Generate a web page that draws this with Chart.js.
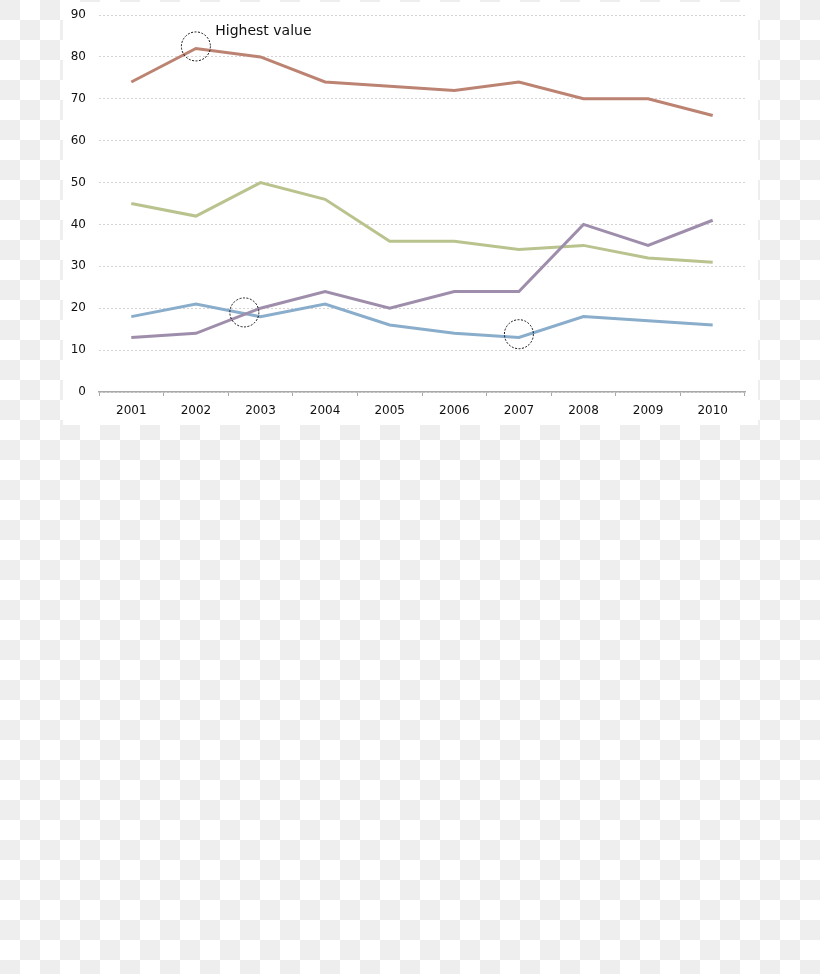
<!DOCTYPE html>
<html>
<head>
<meta charset="utf-8">
<script src="https://cdn.jsdelivr.net/npm/chart.js@4/dist/chart.umd.min.js"></script>
<style>
  html, body { margin: 0; padding: 0; }
  body {
    width: 820px; height: 974px; overflow: hidden;
    background: repeating-conic-gradient(#ffffff 0 25%, #eeeeee 0 50%) 0 0 / 40px 40px;
    position: relative;
  }
  #box {
    position: absolute; left: 63px; top: 2px; width: 695px; height: 423px;
    background: #ffffff;
  }
</style>
</head>
<body>
<div id="box"><canvas id="c" width="695" height="423"></canvas></div>
<script>
const years = ['2001','2002','2003','2004','2005','2006','2007','2008','2009','2010'];
const seriesRed    = [74, 82, 80, 74, 73, 72, 74, 70, 70, 66];
const seriesGreen  = [45, 42, 50, 46, 36, 36, 34, 35, 32, 31];
const seriesPurple = [13, 14, 20, 24, 20, 24, 24, 40, 35, 41];
const seriesBlue   = [18, 21, 18, 21, 16, 14, 13, 18, 17, 16];
const yTicks = [0, 10, 20, 30, 40, 50, 60, 70, 80, 90];
// annotation circles (category index, value) and label
const circleX = [1, 1.75, 6];
const circleY = [82.5, 19, 13.8];
const noteText = 'Highest value';
const noteX = 1.3;
const noteY = 86.2;

const annotations = {
  id: 'annotations',
  afterDatasetsDraw(chart) {
    const ctx = chart.ctx, xs = chart.scales.x, ys = chart.scales.y;
    ctx.save();
    ctx.strokeStyle = '#111111';
    ctx.lineWidth = 1;
    ctx.setLineDash([2, 1.5]);
    for (let i = 0; i < circleX.length; i++) {
      const px = xs.getPixelForValue(circleX[i]);
      const py = ys.getPixelForValue(circleY[i]);
      ctx.beginPath();
      ctx.arc(px, py, 14.5, 0, Math.PI * 2);
      ctx.stroke();
    }
    ctx.setLineDash([]);
    ctx.fillStyle = '#111111';
    ctx.font = '14px "DejaVu Sans"';
    ctx.textAlign = 'left';
    ctx.textBaseline = 'middle';
    ctx.fillText(noteText, xs.getPixelForValue(noteX), ys.getPixelForValue(noteY));
    ctx.restore();
  }
};

const mk = (label, data, color) => ({
  label, data, borderColor: color, backgroundColor: color,
  borderWidth: 3, pointRadius: 0, tension: 0, fill: false
});

new Chart(document.getElementById('c'), {
  type: 'line',
  data: {
    labels: years,
    datasets: [
      mk('Red', seriesRed, '#bc8372'),
      mk('Purple', seriesPurple, '#9f8eab'),
      mk('Green', seriesGreen, '#b9c38e'),
      mk('Blue', seriesBlue, '#89adcb')
    ]
  },
  options: {
    responsive: false,
    animation: false,
    devicePixelRatio: 1,
    layout: { padding: { left: 0, right: 13, top: 13, bottom: 0 } },
    plugins: { legend: { display: false }, tooltip: { enabled: false } },
    scales: {
      x: {
        offset: true,
        grid: { display: true, drawOnChartArea: false, drawTicks: true, tickLength: 4, color: '#a8a8a8', offset: true },
        border: { display: true, color: '#a8a8a8', width: 1.5 },
        ticks: { color: '#111111', font: { family: 'DejaVu Sans', size: 12 }, padding: 8, maxRotation: 0, autoSkip: false },
        afterFit: s => { s.height = 33; }
      },
      y: {
        min: 0, max: 90,
        afterBuildTicks: s => { s.ticks = yTicks.map(v => ({ value: v })); },
        grid: { color: '#d4d4d4', drawTicks: true, tickLength: 13, tickColor: 'rgba(0,0,0,0)', lineWidth: 1 },
        border: { display: false, dash: [2, 2] },
        ticks: { color: '#111111', font: { family: 'DejaVu Sans', size: 12 }, padding: 0 },
        afterFit: s => { s.width = 36; }
      }
    }
  },
  plugins: [annotations]
});
</script>
</body>
</html>
